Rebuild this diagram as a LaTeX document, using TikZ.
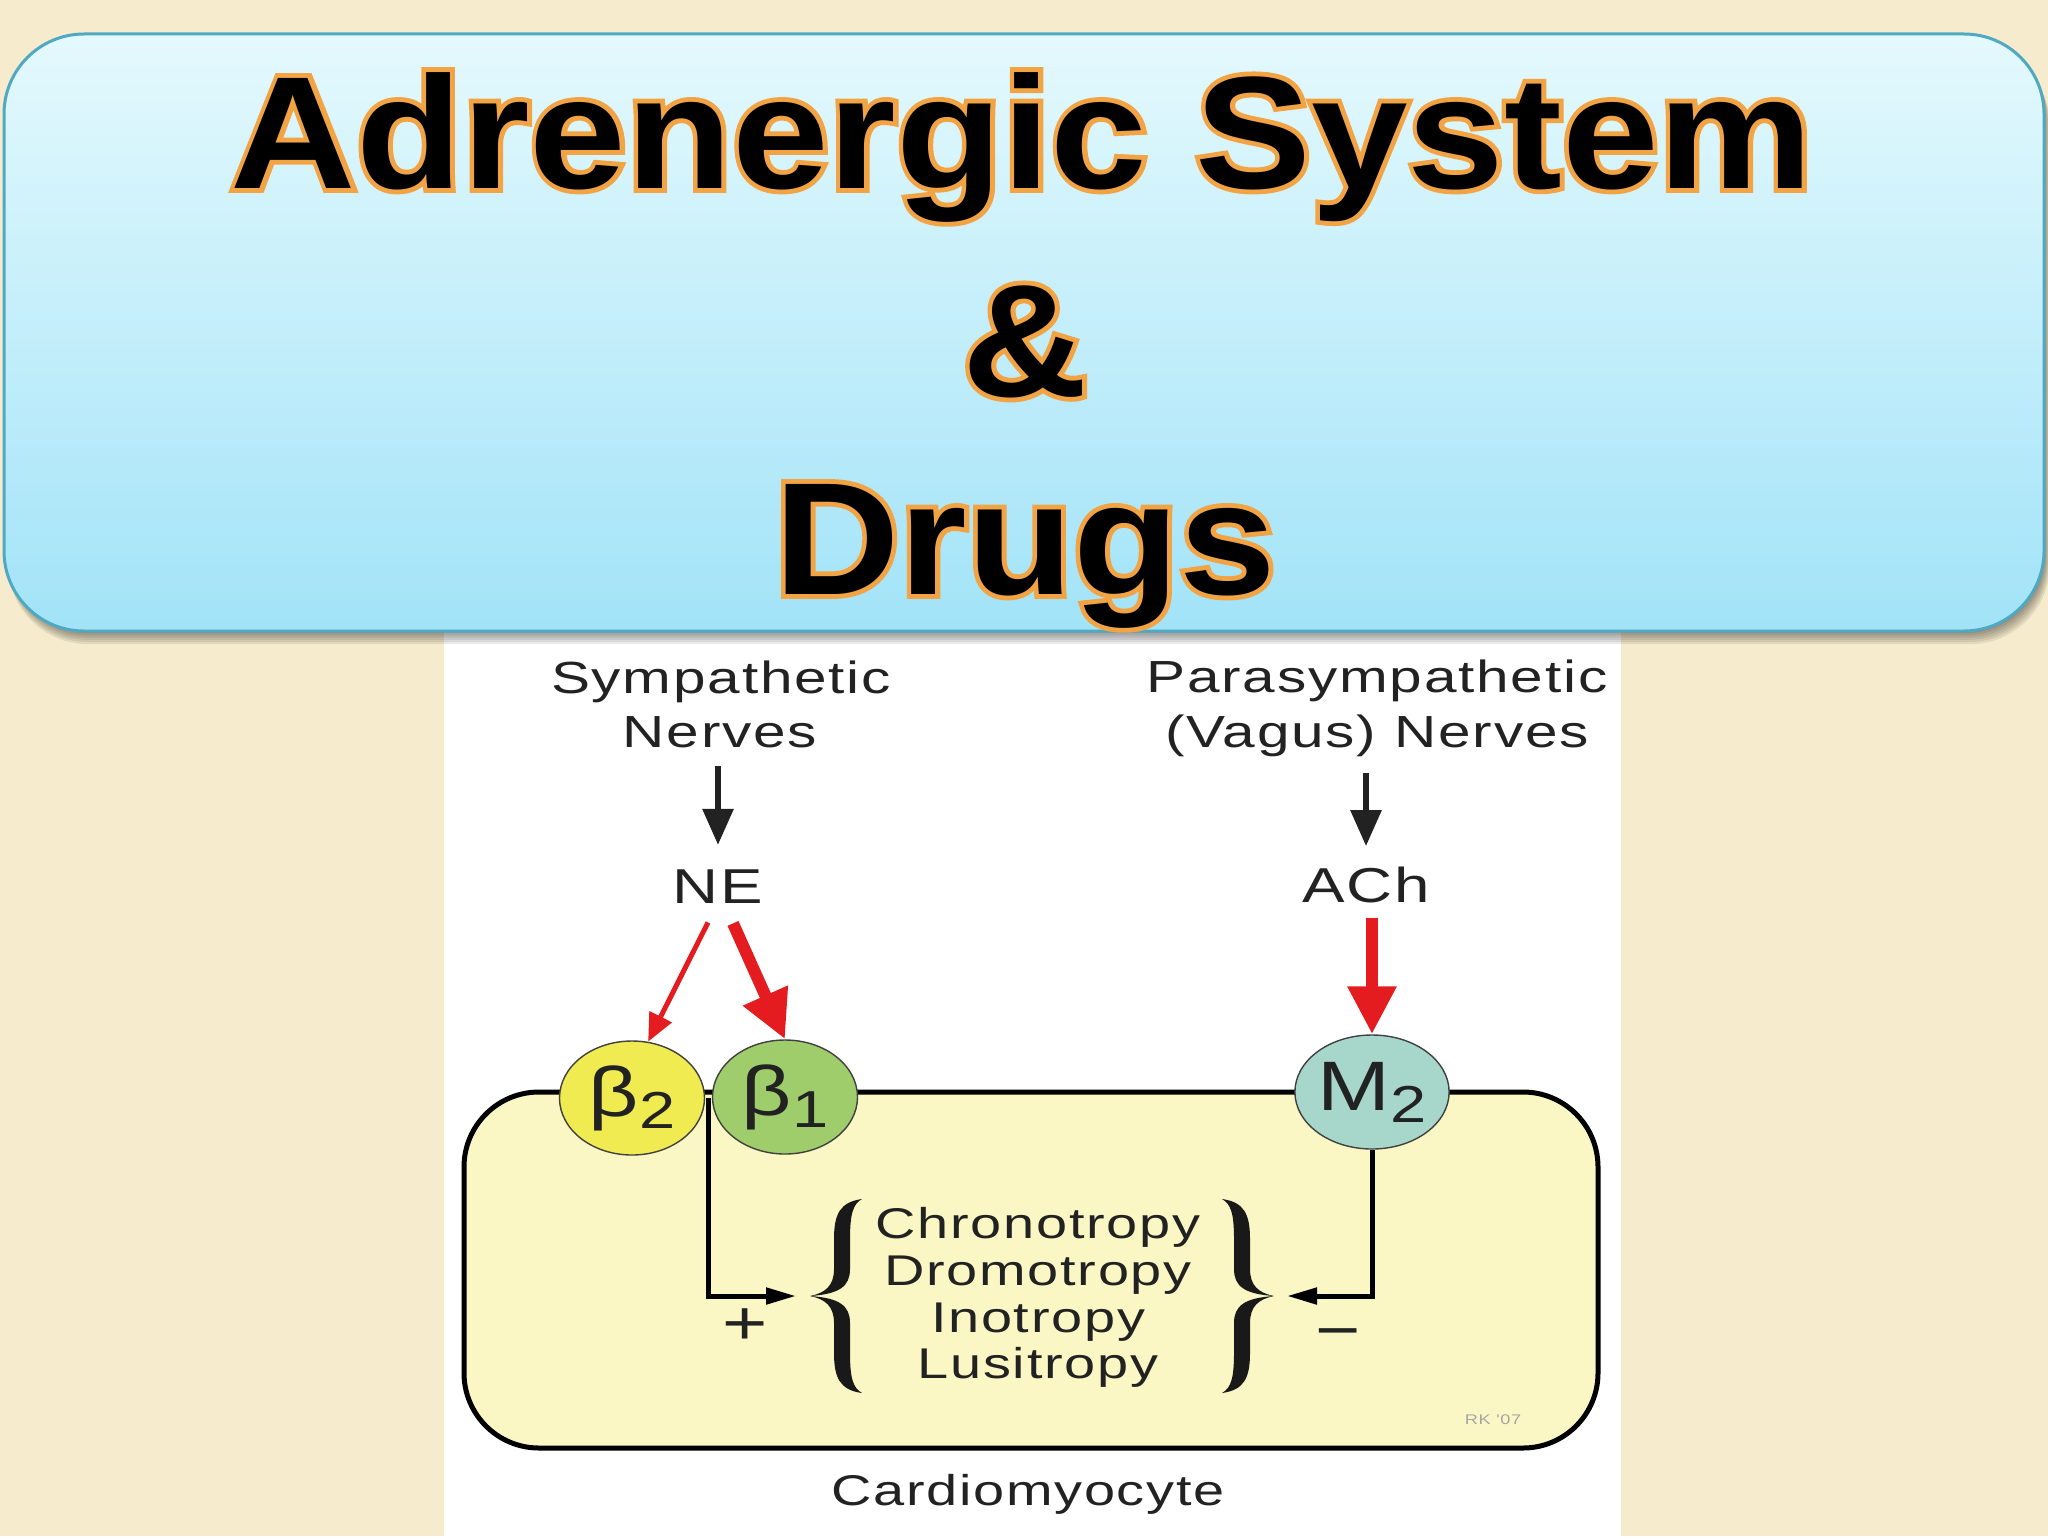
\documentclass[tikz,border=0pt]{standalone}
\usepackage{fontspec}
\setmainfont{Liberation Sans}
\newfontfamily\tfont[FakeStretch=1.085]{Liberation Sans}
\newfontfamily\gfont[FakeStretch=1.085,FakeBold=6]{Liberation Sans}
\newfontfamily\dfont[FakeStretch=1.3,LetterSpace=4]{Liberation Sans}
\newfontfamily\rfont[FakeStretch=1.25]{Liberation Sans}
\usetikzlibrary{arrows.meta,shapes.geometric,calc}
\definecolor{bg}{HTML}{F6ECCD}
\definecolor{boxtop}{HTML}{E4F9FD}
\definecolor{boxbot}{HTML}{A2E3F8}
\definecolor{boxline}{HTML}{4FA9C2}
\definecolor{glow}{HTML}{F2A444}
\definecolor{cellfill}{HTML}{FBF7C4}
\definecolor{bTwo}{HTML}{F1EB52}
\definecolor{bOne}{HTML}{A0CD6C}
\definecolor{mTwo}{HTML}{A7D7CB}
\definecolor{txt}{HTML}{222222}
\definecolor{rd}{HTML}{E41B1F}
\newcommand{\lbl}[2]{{\fontsize{35}{35}\selectfont #1}\raisebox{-6pt}{\fontsize{26}{26}\selectfont #2}}
\begin{document}
\begin{tikzpicture}[x=0.5pt,y=-0.5pt,
  ttl/.style={font=\tfont\bfseries\fontsize{80}{80}\selectfont, anchor=base, inner sep=0pt},
  gttl/.style={font=\gfont\bfseries\fontsize{80}{80}\selectfont, anchor=base, inner sep=0pt, text=glow},
  dtxt/.style={font=\dfont\fontsize{22.5}{24}\selectfont, text=txt, anchor=base, inner sep=0pt},
  ltxt/.style={font=\dfont\fontsize{21.5}{24}\selectfont, text=txt, anchor=base, inner sep=0pt},
  rec/.style={ellipse, draw=black!75, line width=0.7pt, minimum width=72.5pt, minimum height=57pt, inner sep=0pt, text=txt, font=\rfont},
  blk/.style={draw=txt, line width=3pt, -{Triangle[length=18pt,width=15pt]}},
  rthin/.style={draw=rd, line width=2.5pt, -{Triangle[length=14pt,width=12pt]}},
  rthick/.style={draw=rd, line width=6pt, -{Triangle[length=24pt,width=23pt]}},
  conn/.style={draw=black, line width=2.5pt, -{Triangle[length=15pt,width=8pt]}},
  lbrace/.pic={\fill[black!90] (52,-97) .. controls (30,-94) and (24,-82) .. (24,-57)
      -- (24,-27) .. controls (24,-10) and (15,-3) .. (0,0)
      .. controls (15,3) and (24,10) .. (24,27) -- (24,57)
      .. controls (24,82) and (30,94) .. (52,97)
      .. controls (43,92) and (40,82) .. (40,57) -- (40,27)
      .. controls (40,10) and (30,2) .. (0,0)
      .. controls (30,-2) and (40,-10) .. (40,-27) -- (40,-57)
      .. controls (40,-82) and (43,-92) .. (52,-97) -- cycle;}
]
\useasboundingbox (0,0) rectangle (2048,1536);
\fill[bg] (0,0) rectangle (2048,1536);
% picture panel
\fill[white] (444,632) rectangle (1621,1536);
% title box shadow
\foreach \i in {1,...,6}{
  \fill[black, opacity=0.08, rounded corners=40pt] (8,{34+2*\i}) rectangle ({2044+\i},{631+2.2*\i});
}
\shade[top color=boxtop, bottom color=boxbot, rounded corners=40pt] (4,34) rectangle (2044,631);
\draw[boxline, line width=1.5pt, rounded corners=40pt] (4,34) rectangle (2044,631);
% title text with orange outline
\coordinate (t1) at (1022,188);
\coordinate (t2) at (1025,396);
\coordinate (t3) at (1025,594);
\node[gttl] (glow1) at (t1) {Adrenergic System};
\node[gttl] (glow2) at (t2) {\&};
\node[gttl] (glow3) at (t3) {Drugs};
\node[ttl] (title1) at (t1) {Adrenergic System};
\node[ttl] (title2) at (t2) {\&};
\node[ttl] (title3) at (t3) {Drugs};
% cell
\draw[fill=cellfill, line width=2.5pt, rounded corners=37.5pt] (464,1092) rectangle (1598,1448);
% labels
\node[dtxt] (symA) at (721,693) {Sympathetic};
\node[dtxt] (symB) at (720,747) {Nerves};
\node[dtxt] (parA) at (1377,692) {Parasympathetic};
\node[dtxt] (parB) at (1377,747) {(Vagus) Nerves};
\node[dtxt, font=\dfont\fontsize{24.5}{24}\selectfont] (ne) at (718,903) {NE};
\node[dtxt, font=\dfont\fontsize{24.5}{24}\selectfont] (ach) at (1366,902) {ACh};
\node[ltxt] (chr) at (1038,1238) {Chronotropy};
\node[ltxt] (dro) at (1038,1285) {Dromotropy};
\node[ltxt] (ino) at (1038,1332) {Inotropy};
\node[ltxt] (lus) at (1038,1378) {Lusitropy};
\node[dtxt, font=\dfont\fontsize{21.5}{24}\selectfont] (cardio) at (1028,1505) {Cardiomyocyte};
\node[font=\dfont\fontsize{7}{7}\selectfont, text=black!35] (sig) at (1493,1420) {RK '07};
\node[dtxt, font=\rfont\fontsize{31}{31}\selectfont] (plus) at (745,1344) {+};
\node[dtxt, font=\rfont\fontsize{31}{31}\selectfont] (minus) at (1338,1351) {−};
% connectors inside the cell
\coordinate (bj) at (708,1098);
\coordinate (lbt) at (810,1296);
\coordinate (rbt) at (1274,1296);
\draw[conn, shorten >=7pt] (bj) |- (lbt);
% receptors
\node[rec, fill=bTwo] (b2) at (632,1098) {\lbl{β}{2}};
\node[rec, fill=bOne] (b1) at (785,1097) {\lbl{β}{1}};
\node[rec, fill=mTwo] (m2) at (1372,1092) {\lbl{M}{2}};
\draw[conn, shorten >=6.5pt] (m2.south) |- (rbt);
\pic at (lbt) {lbrace};
\pic[xscale=-1] at (rbt) {lbrace};
% nerve arrows
\draw[blk, shorten <=9pt, shorten >=12pt] (symB.south -| ne.north) -- (ne.north);
\draw[blk, shorten <=8pt, shorten >=10pt] (parB.south -| ach.north) -- (ach.north);
\draw[rthin] ($(ne.south)+(-10,19)$) -- (b2.74);
\draw[rthick] ($(ne.south)+(15,20)$) -- (b1.north);
\draw[rthick, shorten <=7.5pt] (m2.north |- ach.south) -- (m2.north);
\end{tikzpicture}
\end{document}
